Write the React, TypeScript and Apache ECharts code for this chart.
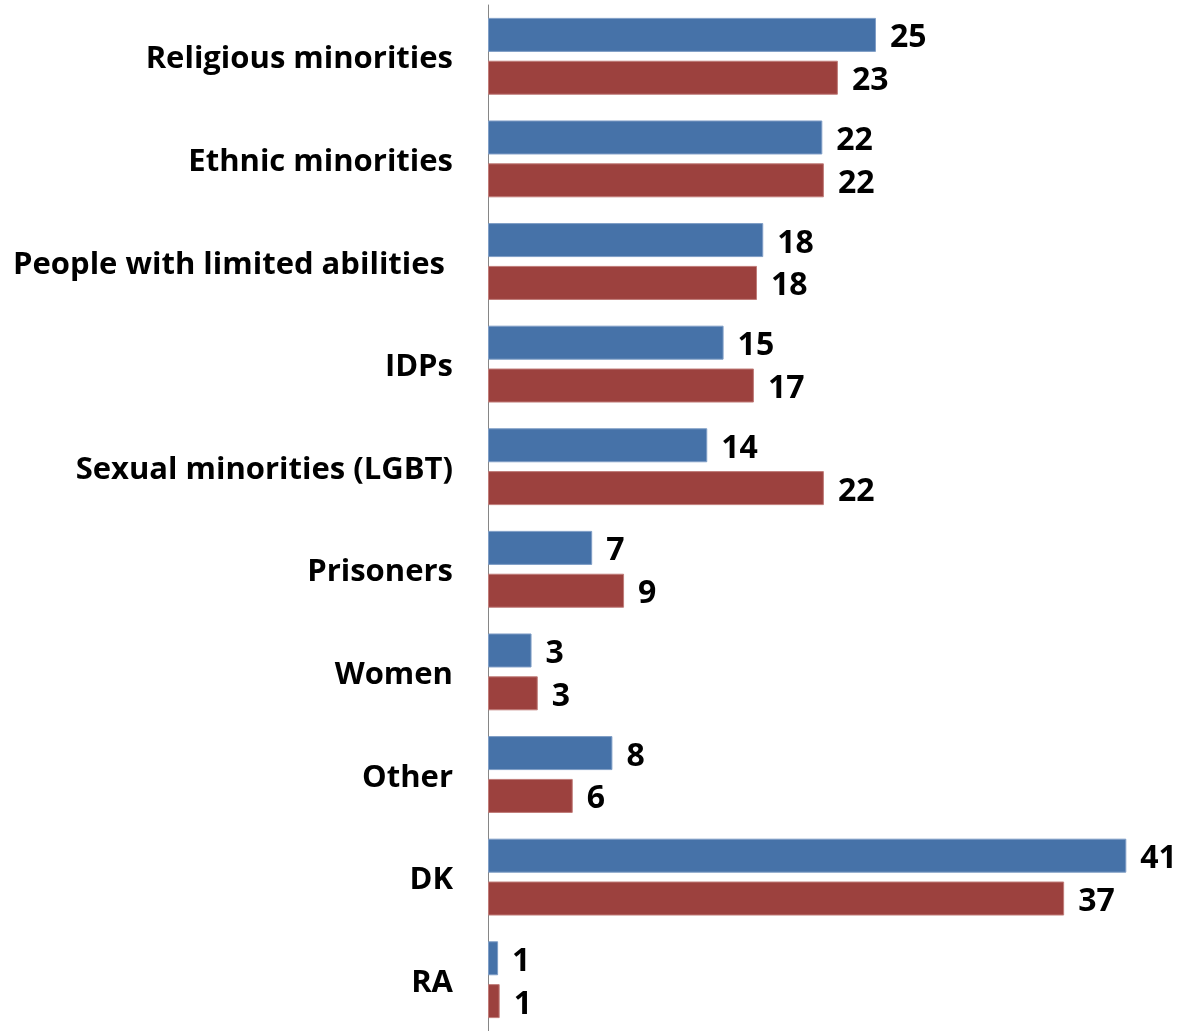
import React, { useEffect, useRef } from "react";
import * as echarts from "echarts";

const categories = [
  "Religious minorities",
  "Ethnic minorities",
  "People with limited abilities",
  "IDPs",
  "Sexual minorities (LGBT)",
  "Prisoners",
  "Women",
  "Other",
  "DK",
  "RA",
];
// bar lengths
const seriesA = [24.95, 21.5, 17.7, 15.15, 14.1, 6.7, 2.8, 8.0, 41.05, 0.65];
const seriesB = [22.5, 21.6, 17.3, 17.1, 21.6, 8.75, 3.2, 5.45, 37.05, 0.75];
// value labels as printed
const labelsA = [25, 22, 18, 15, 14, 7, 3, 8, 41, 1];
const labelsB = [23, 22, 18, 17, 22, 9, 3, 6, 37, 1];

const FONT = "Open Sans";
const FS = 31;
const FS_VAL = 32;

export default function App() {
  const ref = useRef<HTMLDivElement>(null);
  useEffect(() => {
    const chart = echarts.init(ref.current!, null, { renderer: "svg" });
    const mkLabel = (labels: number[]) => ({
      show: true,
      position: "right",
      distance: 14,
      color: "#000",
      fontFamily: FONT,
      fontWeight: "bold",
      fontSize: FS_VAL,
      formatter: (p: any) => String(labels[p.dataIndex]),
    });
    chart.setOption({
      animation: false,
      grid: { left: 488, right: 10.8, top: 5, bottom: -4.6 },
      xAxis: {
        type: "value",
        min: 0,
        max: 44,
        show: false,
        splitLine: { show: false },
      },
      yAxis: {
        type: "category",
        data: categories,
        inverse: true,
        axisLine: { show: true, lineStyle: { color: "#868686", width: 1 } },
        axisTick: { show: false },
        axisLabel: {
          margin: 35,
          color: "#000",
          fontFamily: FONT,
          fontWeight: "bold",
          fontSize: FS,
          formatter: (v: string) =>
            v === "People with limited abilities" ? `{p|${v}}` : v,
          rich: {
            p: {
              fontFamily: FONT,
              fontWeight: "bold",
              fontSize: FS,
              color: "#000",
              padding: [0, 8, 0, 0],
            },
          },
        },
      },
      series: [
        {
          type: "bar",
          data: seriesA,
          barWidth: 34,
          barGap: "26%",
          itemStyle: { color: "#4672A8", borderColor: "#7f9ec6", borderWidth: 1 },
          label: mkLabel(labelsA),
        },
        {
          type: "bar",
          data: seriesB,
          barWidth: 34,
          barGap: "26%",
          itemStyle: { color: "#9C413E", borderColor: "#c07c79", borderWidth: 1 },
          label: mkLabel(labelsB),
        },
      ],
    });
    return () => chart.dispose();
  }, []);
  return (
    <div
      ref={ref}
      style={{ position: "fixed", left: 0, top: 0, width: 1183, height: 1031 }}
    />
  );
}
